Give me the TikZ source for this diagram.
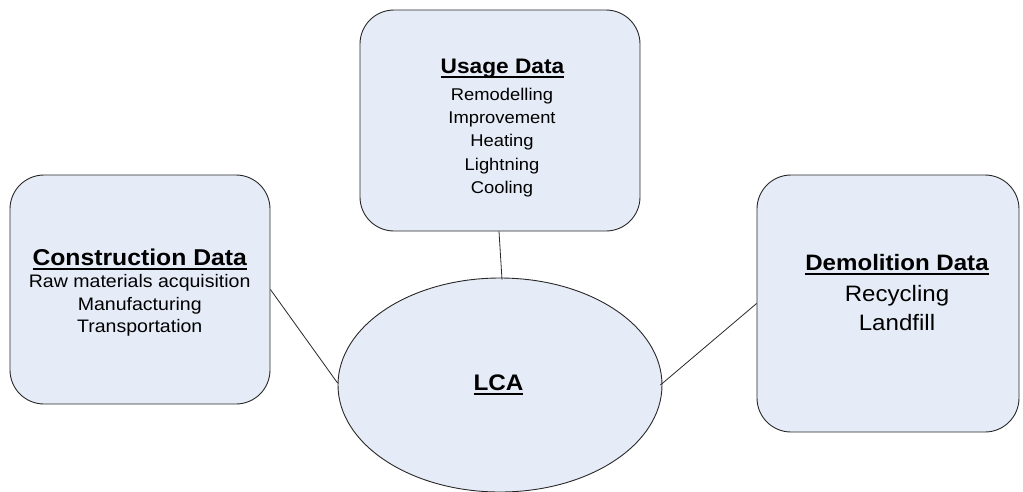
\documentclass[tikz,border=0pt]{standalone}
\usepackage{fontspec}
\setmainfont[FakeStretch=1.08]{Liberation Sans}
\usetikzlibrary{shapes.geometric}
\definecolor{boxfill}{RGB}{230,236,247}
\definecolor{edge}{RGB}{40,40,40}
\newsavebox\ulbox
\newcommand\myul[1]{\sbox\ulbox{#1}\rlap{\rule[-0.21em]{\wd\ulbox}{0.09em}}\usebox\ulbox}
\newcommand\fs[1]{\fontsize{#1}{#1}\selectfont}
\tikzset{
  databox/.style={draw=edge, line width=0.9pt, fill=boxfill, rounded corners=34pt, inner sep=0pt},
  lcashape/.style={draw=edge, line width=0.9pt, fill=boxfill, ellipse, inner sep=0pt},
  txt/.style={anchor=base, inner sep=0pt, text=black},
  link/.style={draw=edge, line width=0.8pt}
}
\begin{document}
\begin{tikzpicture}[x=1pt,y=-1pt]
\useasboundingbox (0,0) rectangle (1023,491);
% shapes
\node[databox, minimum width=280pt, minimum height=221pt] (usage) at (500,120.5) {};
\node[databox, minimum width=260pt, minimum height=229pt] (cons) at (140,289.5) {};
\node[databox, minimum width=262pt, minimum height=257pt] (demo) at (888,303.5) {};
\node[lcashape, minimum width=324pt, minimum height=214pt] (lca) at (500,385) {};
% connectors
\draw[link] ([xshift=-1pt]usage.south) -- ([xshift=2pt,yshift=-2pt]lca.north);
\draw[link] (cons.east) -- ([yshift=2pt]lca.west);
\draw[link] (demo.west) -- ([xshift=-2pt]lca.east);
% usage text
\node[txt, font=\fs{21}\bfseries] (ut) at (502.5,73.3) {\myul{Usage Data}};
\node[txt, font=\fs{17}] (u1) at (502,100) {Remodelling};
\node[txt, font=\fs{17}] (u2) at (502,123.3) {Improvement};
\node[txt, font=\fs{17}] (u3) at (502,146.6) {Heating};
\node[txt, font=\fs{17}] (u4) at (502,170) {Lightning};
\node[txt, font=\fs{17}] (u5) at (502,193.3) {Cooling};
% construction text
\node[txt, font=\fs{22.9}\bfseries] (ct) at (139.7,265) {\myul{Construction Data}};
\node[txt, font=\fs{18.1}] (c1) at (139.7,287.3) {Raw materials acquisition};
\node[txt, font=\fs{18.1}] (c2) at (139.7,310) {Manufacturing};
\node[txt, font=\fs{18.1}] (c3) at (139.7,332.7) {Transportation};
% demolition text
\node[txt, font=\fs{22.3}\bfseries] (dt) at (897,270) {\myul{Demolition Data}};
\node[txt, font=\fs{22.3}] (d1) at (897,301.5) {Recycling};
\node[txt, font=\fs{22.3}] (d2) at (897,330) {Landfill};
% LCA text
\node[txt, font=\fs{22.5}\bfseries] (lt) at (498.5,390) {\myul{LCA}};
\end{tikzpicture}
\end{document}
